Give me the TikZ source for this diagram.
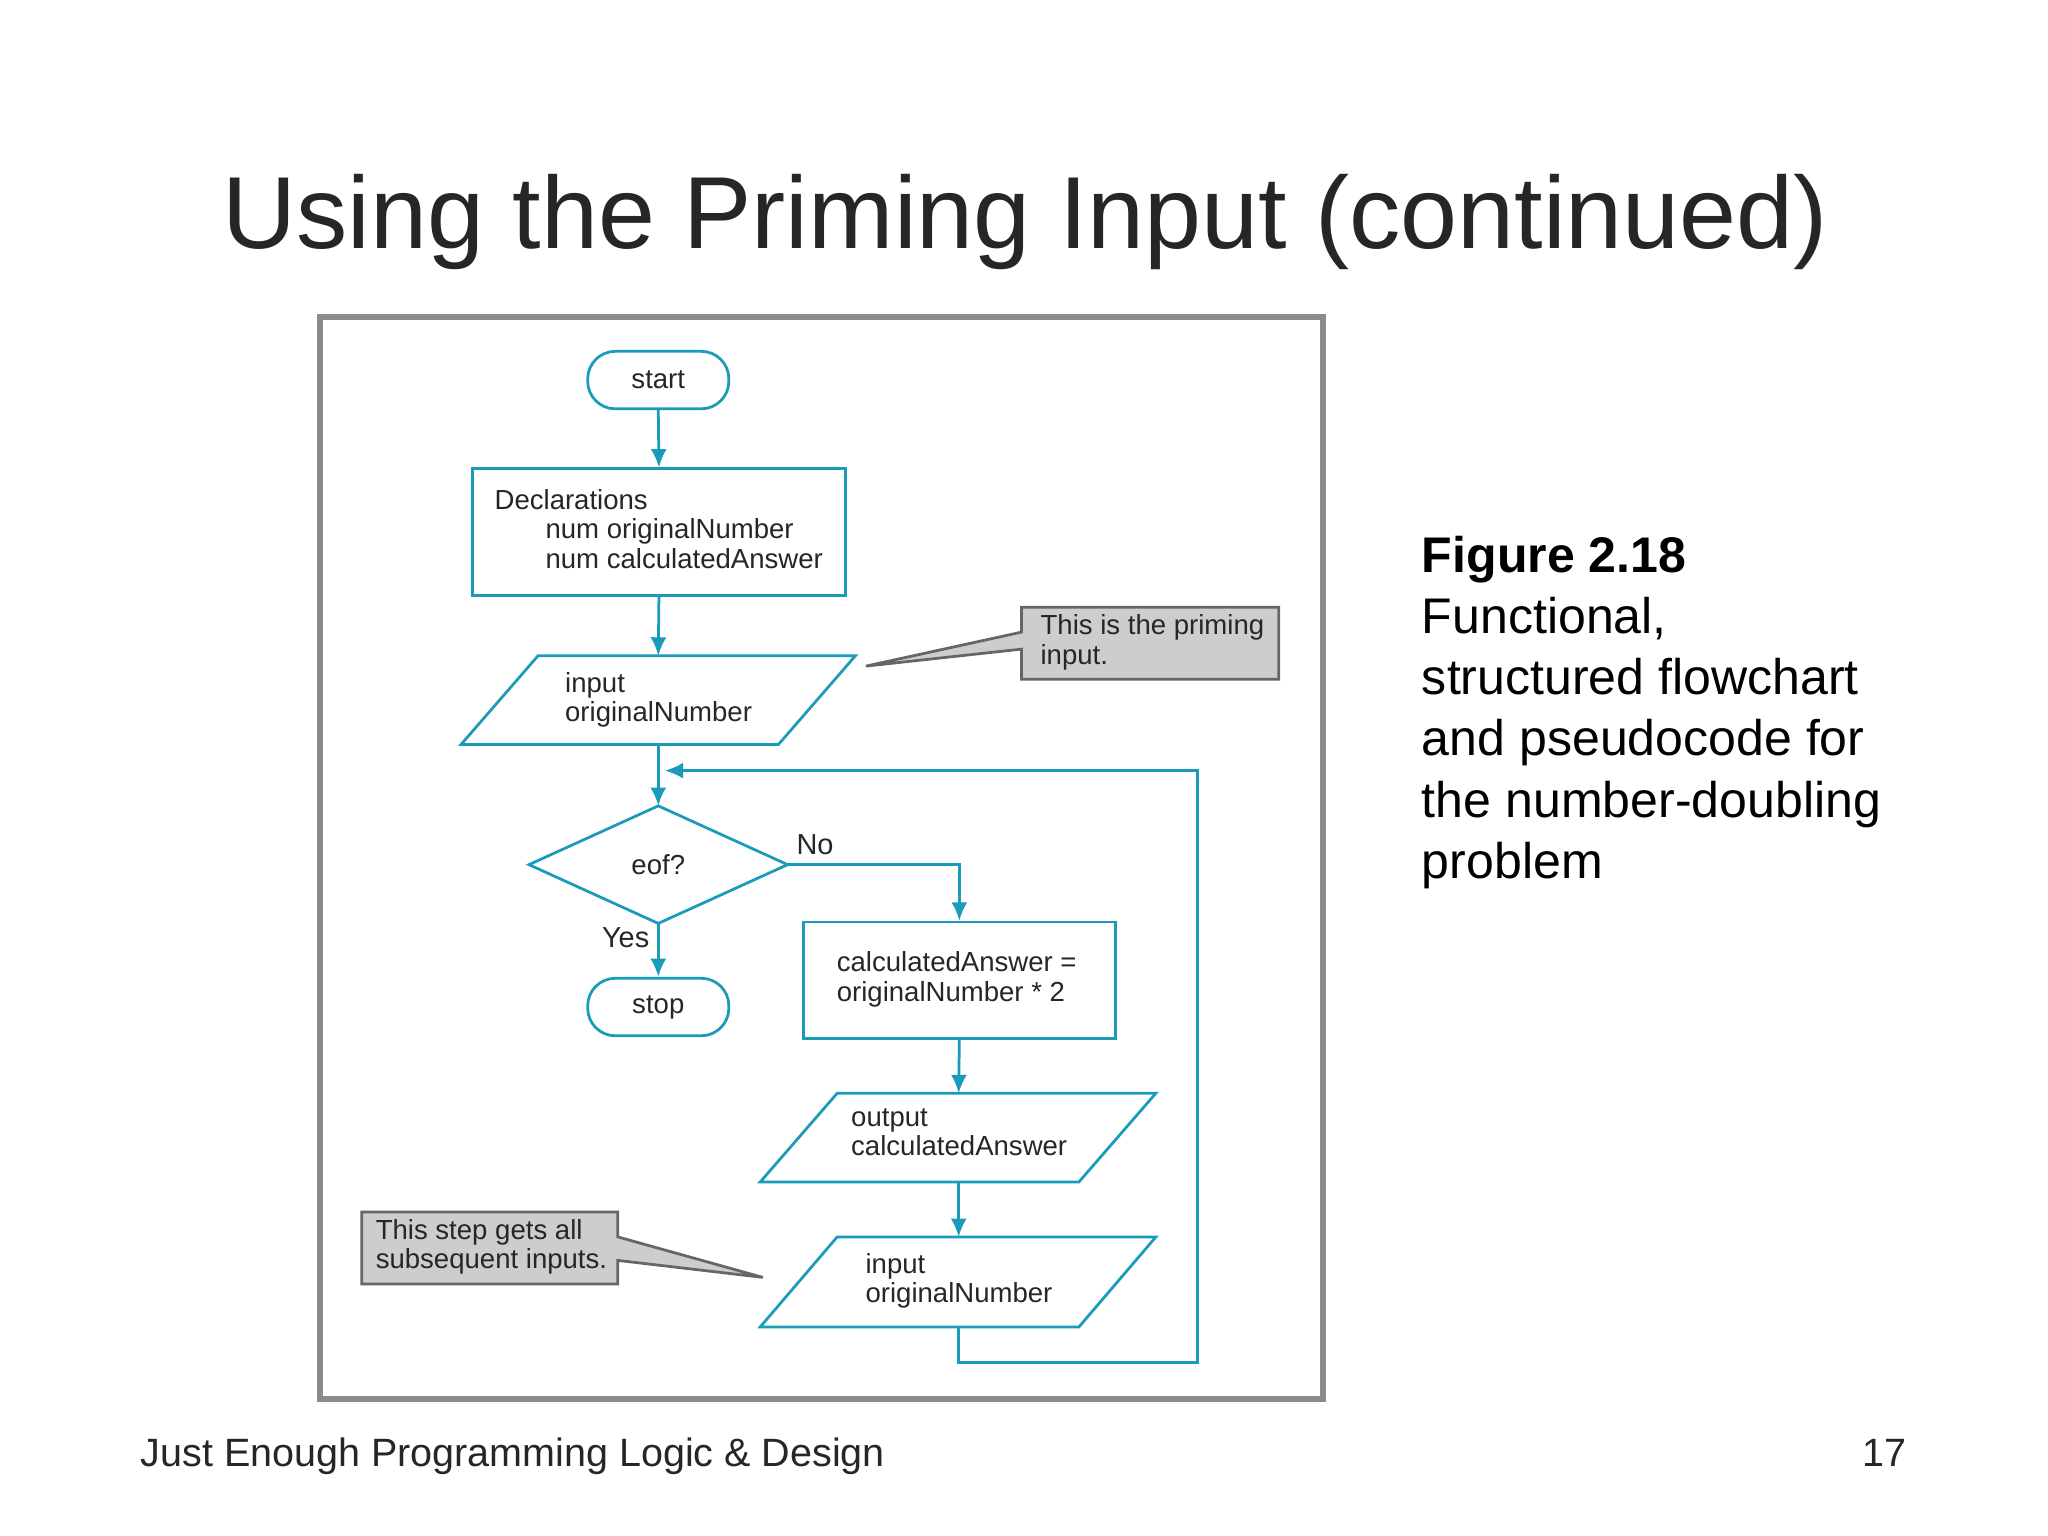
\documentclass[tikz,border=0pt]{standalone}
\usepackage{fontspec}
\setmainfont{Liberation Sans}
\usetikzlibrary{shapes.geometric,arrows.meta}
\definecolor{fc}{RGB}{25,155,185}
\definecolor{cg}{RGB}{205,205,205}
\begin{document}
\begin{tikzpicture}[x=0.01cm,y=-0.01cm,
  ln/.style={draw=fc,line width=0.6pt},
  arr/.style={fc,line width=0.6pt,-{Latex[length=4pt,width=3.5pt]}},
  ft/.style={font=\fontsize{6}{6.4}\selectfont,inner sep=0pt,align=left,text=black!85},
  term/.style={ln,rounded corners=6pt,minimum width=1.08cm,minimum height=0.44cm,inner sep=0pt},
  callout/.style={draw=black!60,fill=cg,line width=0.6pt}]
\useasboundingbox (0,0) rectangle (1568,1176);
\node[font=\fontsize{22.3}{26}\selectfont,text=black!85,inner sep=0pt] (title) at (785,170) {Using the Priming Input (continued)};
\draw[black!45,line width=1.3pt] (245,243) rectangle (1013,1071);
% start
\node[term,ft] (start) at (504,291) {start};
% declarations
\node[ln,minimum width=2.85cm,minimum height=0.97cm] (decl) at (504.5,407.5) {};
\node[ft,anchor=north west] (dtx) at (378,374) {Declarations\\\hspace*{0.39cm}num originalNumber\\\hspace*{0.39cm}num calculatedAnswer};
% input 1
\draw[ln] (412,502) -- (655,502) -- (596,570) -- (353,570) -- cycle;
\coordinate (in1t) at (504,502); \coordinate (in1b) at (504,570);
\node[ft,anchor=north west] (in1txt) at (432,514) {input\\originalNumber};
% callout 1
\draw[callout] (782,465) -- (979,465) -- (979,520) -- (782,520) -- (782,497) -- (663,510) -- (782,484) -- cycle;
\node[ft,anchor=north west] (c1) at (796,470) {This is the priming\\input.};
% diamond
\draw[ln] (504,617) -- (603,662) -- (504,707) -- (405,662) -- cycle;
\coordinate (dt) at (504,617); \coordinate (dr) at (603,662); \coordinate (db) at (504,707);
\node[ft] (eof) at (504,662) {eof?};
\node[ft,font=\fontsize{6.3}{7}\selectfont] (no) at (624,647) {No};
\node[ft,font=\fontsize{6.3}{7}\selectfont] (yes) at (479,718) {Yes};
% stop
\node[term,ft] (stop) at (504,771) {stop};
% calc
\node[ln,minimum width=2.39cm,minimum height=0.89cm] (calc) at (734.5,750.5) {};
\node[ft,anchor=north west] (ct) at (640,728) {calculatedAnswer =\\originalNumber * 2};
% output
\draw[ln] (641,837) -- (885,837) -- (826,905) -- (582,905) -- cycle;
\coordinate (outt) at (734,837); \coordinate (outb) at (734,905);
\node[ft,anchor=north west] (otxt) at (651,848) {output\\calculatedAnswer};
% input 2
\draw[ln] (641,947) -- (885,947) -- (826,1016) -- (582,1016) -- cycle;
\coordinate (in2t) at (734,947); \coordinate (in2b) at (734,1016);
\node[ft,anchor=north west] (i2txt) at (662,959) {input\\originalNumber};
% callout 2
\draw[callout] (277,928) -- (473,928) -- (473,947) -- (584,978) -- (473,965) -- (473,983) -- (277,983) -- cycle;
\node[ft,anchor=north west] (c2) at (287,933) {This step gets all\\subsequent inputs.};
% connectors
\draw[arr] (start.south) -- (decl.north);
\draw[arr] (decl.south) -- (in1t);
\draw[arr] (in1b) -- (dt);
\draw[arr] (dr) -| (calc.north);
\draw[arr] (db) -- (stop.north);
\draw[arr] (calc.south) -- (outt);
\draw[arr] (outb) -- (in2t);
\coordinate (loopend) at (509,590);
\draw[arr] (in2b) -- (734,1043) -- (917,1043) -- (917,590) -- (loopend);
% right text
\node[anchor=north west,inner sep=0pt,font=\fontsize{10.9}{13.3}\selectfont,align=left,text=black] (fig) at (1088,410)
 {\textbf{Figure 2.18}\\Functional,\\structured flowchart\\and pseudocode for\\the number-doubling\\problem};
\node[anchor=base west,inner sep=0pt,font=\fontsize{8.6}{10}\selectfont,text=black!85] (foot) at (107,1123) {Just Enough Programming Logic \& Design};
\node[anchor=base east,inner sep=0pt,font=\fontsize{8.6}{10}\selectfont,text=black!85] (pg) at (1460,1123) {17};
\end{tikzpicture}
\end{document}
